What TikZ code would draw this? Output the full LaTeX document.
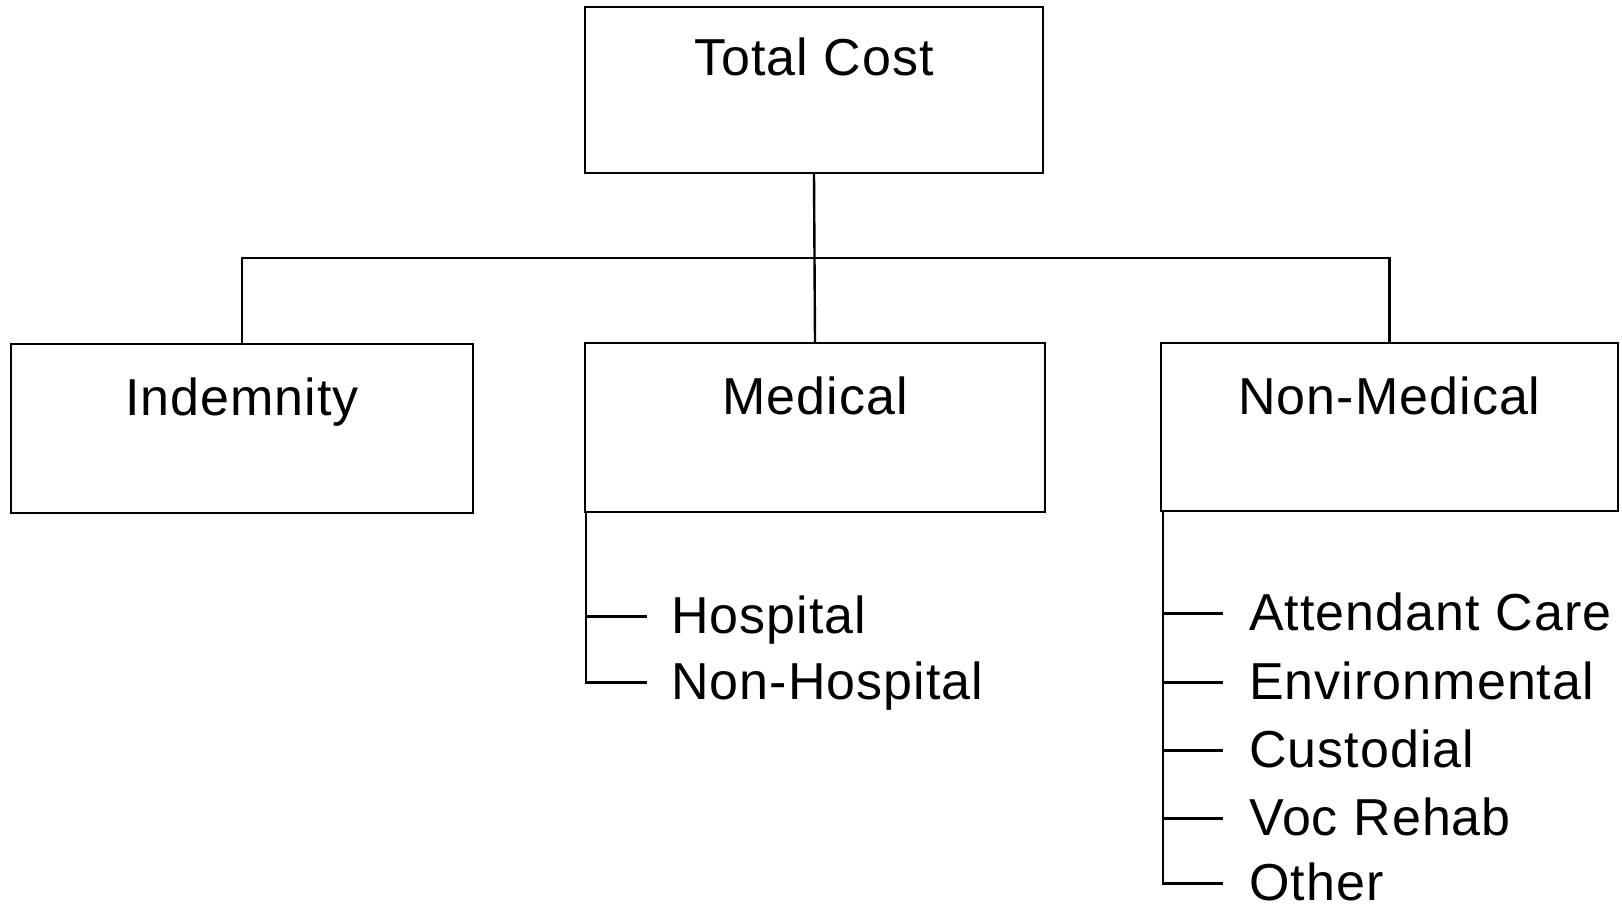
\documentclass[tikz,border=0pt]{standalone}
\usepackage{fontspec}
\setmainfont{Liberation Sans}[LetterSpace=2]
\usetikzlibrary{calc}
\begin{document}
\begin{tikzpicture}[x=1pt,y=-1pt,
  line width=2.4pt,
  box/.style={draw, inner sep=0pt},
  lbl/.style={anchor=base, inner sep=0pt, font=\fontsize{52}{60}\selectfont},
  item/.style={anchor=base west, inner sep=0pt, text height=37pt, text depth=4pt, font=\fontsize{52}{60}\selectfont}]
\useasboundingbox (0,0) rectangle (1622,912);
% boxes
\node[box, minimum width=458pt, minimum height=166pt] (tc) at (814,90) {};
\node[box, minimum width=462pt, minimum height=169pt] (ind) at (242,428.5) {};
\node[box, minimum width=460pt, minimum height=169pt] (med) at (815,427.5) {};
\node[box, minimum width=457pt, minimum height=168pt] (nm) at (1389.5,427) {};
% box labels
\node[lbl] (tct) at ($(tc.north)+(0,70)$) {Total Cost};
\node[lbl] (indt) at ($(ind.north)+(0,73)$) {Indemnity};
\node[lbl] (medt) at ($(med.north)+(0,73)$) {Medical};
\node[lbl] (nmt) at ($(nm.north)+(0,73)$) {Non-Medical};
% tree connectors
\coordinate (bus) at (815,258);
\draw (tc.south) -- (med.north);
\draw (ind.north) |- (bus) -| (nm.north);
% medical items
\node[item] (hosp) at (670,633) {Hospital};
\node[item] (nhosp) at (670,699) {Non-Hospital};
\draw ([xshift=2pt]med.south west) |- ([xshift=-23pt]nhosp.west);
\draw ([xshift=2pt]med.south west |- hosp.west) -- ([xshift=-23pt]hosp.west);
% non-medical items
\node[item] (att) at (1248,630) {Attendant Care};
\node[item] (env) at (1248,699) {Environmental};
\node[item] (cus) at (1248,767) {Custodial};
\node[item] (voc) at (1248,835) {Voc Rehab};
\node[item] (oth) at (1248,900) {Other};
\draw ([xshift=3pt]nm.south west) |- ([xshift=-25pt]oth.west);
\foreach \n in {att,env,cus,voc}
  \draw ([xshift=3pt]nm.south west |- \n.west) -- ([xshift=-25pt]\n.west);
\end{tikzpicture}
\end{document}
